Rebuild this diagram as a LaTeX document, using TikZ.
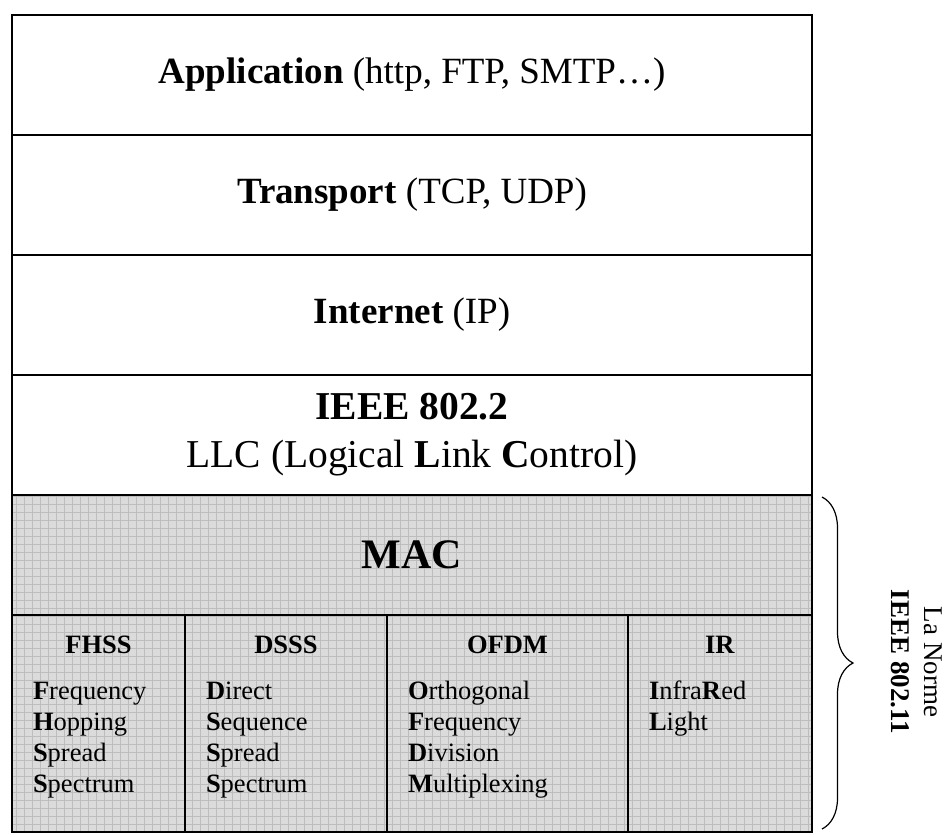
\documentclass[tikz,border=0pt]{standalone}
\usepackage{fontspec}
\setmainfont{Liberation Serif}
\usetikzlibrary{decorations.pathreplacing}
\definecolor{macgray}{gray}{0.86}
\definecolor{gridgray}{gray}{0.74}
\newcommand{\layertxt}{\fontsize{37}{47}\selectfont}
\newcommand{\coltxt}{\fontsize{26.5}{31}\selectfont}
\tikzset{
  layer/.style={draw, line width=1.6pt, minimum width=800pt, minimum height=120pt,
    inner sep=0pt, outer sep=0pt, align=center, font=\layertxt},
  phy/.style={draw, line width=1.6pt, minimum height=217pt, inner sep=0pt, outer sep=0pt},
  phytxt/.style={anchor=north, align=left, inner sep=0pt, font=\coltxt}
}
\begin{document}
\begin{tikzpicture}[x=1pt, y=-1pt]
        \useasboundingbox (0,0) rectangle (947,836);
        % grey background of the 802.11 part
        \fill[macgray] (12,495) rectangle (812,832);
        \begin{scope}[y=1pt]
            \clip (12,-495) rectangle (812,-832);
            \draw[gridgray, line width=0.8pt, step=8] (12,-832) grid (812,-495);
        \end{scope}
        % stack
        \node[layer] (app) at (412,75) {\textbf{Application} (http, FTP, SMTP\ldots)};
        \node[layer] (trans) at (412,195) {\textbf{Transport} (TCP, UDP)};
        \node[layer] (inet) at (412,315) {\textbf{Internet} (IP)};
        \node[layer, font=\fontsize{39.5}{48}\selectfont] (llc) at (412,435)
            {\textbf{IEEE 802.2}\\LLC (Logical \textbf{L}ink \textbf{C}ontrol)};
        \node[layer, font=\fontsize{42}{50}\selectfont\bfseries] (mac) at (412,555) {MAC};
        % physical layers
        \node[phy, minimum width=173pt] (fhss) at (98.5,723.5) {};
        \node[phy, minimum width=202pt] (dsss) at (286,723.5) {};
        \node[phy, minimum width=241pt] (ofdm) at (507.5,723.5) {};
        \node[phy, minimum width=184pt] (ir) at (720,723.5) {};
        \node[phytxt, text width=131pt] (fhss-txt) at (98.5,636) {\makebox[\linewidth]{\textbf{FHSS}}\\[15pt]
            \textbf{F}requency\\\textbf{H}opping\\\textbf{S}pread\\\textbf{S}pectrum};
        \node[phytxt, text width=160pt] (dsss-txt) at (286,636) {\makebox[\linewidth]{\textbf{DSSS}}\\[15pt]
            \textbf{D}irect\\\textbf{S}equence\\\textbf{S}pread\\\textbf{S}pectrum};
        \node[phytxt, text width=199pt] (ofdm-txt) at (507.5,636) {\makebox[\linewidth]{\textbf{OFDM}}\\[15pt]
            \textbf{O}rthogonal\\\textbf{F}requency\\\textbf{D}ivision\\\textbf{M}ultiplexing};
        \node[phytxt, text width=142pt] (ir-txt) at (720,636) {\makebox[\linewidth]{\textbf{IR}}\\[15pt]
            \textbf{I}nfra\textbf{R}ed\\\textbf{L}ight};
        % brace
        \draw[line width=1.2pt, decorate, decoration={brace, amplitude=31pt}]
            ([xshift=10pt, yshift=-2pt]mac.north east) -- ([xshift=10pt, yshift=3pt]ir.south east);
        \node[rotate=-90, align=center, font=\fontsize{27}{33}\selectfont] (norme) at (917,662)
            {La Norme\\\textbf{IEEE 802.11}};
\end{tikzpicture}
\end{document}
